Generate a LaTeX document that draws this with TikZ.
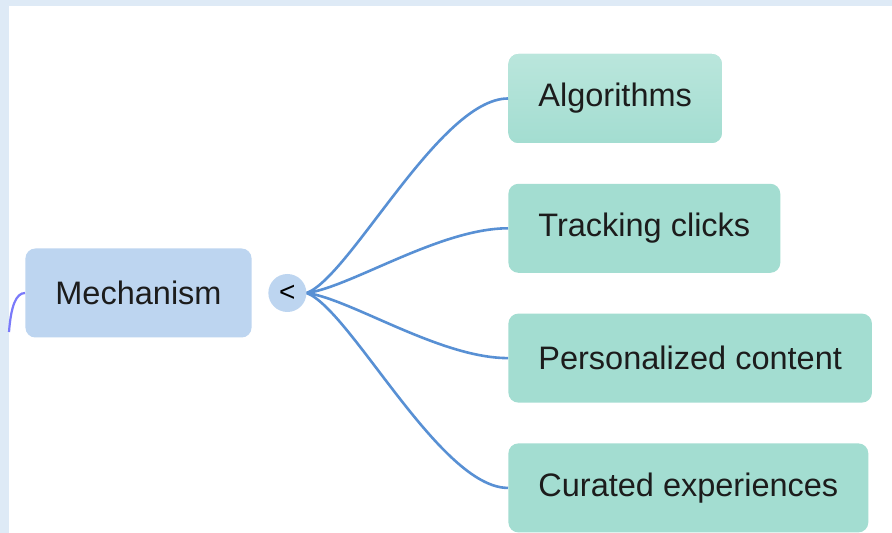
\documentclass[tikz,border=0pt]{standalone}
\usepackage{fontspec}
\setmainfont{Liberation Sans}
\usepackage{tikz}
\usetikzlibrary{positioning,calc}
\definecolor{mmframe}{RGB}{222,234,246}
\definecolor{mmblue}{RGB}{189,213,240}
\definecolor{mmgreen}{RGB}{163,221,209}
\definecolor{mmgreentop}{RGB}{186,230,220}
\definecolor{mmline}{RGB}{88,144,212}
\definecolor{mmin}{RGB}{122,122,250}
\definecolor{mmtext}{RGB}{28,28,28}
\tikzset{
  mmnode/.style = {align=left, inner xsep=15pt, inner ysep=0pt,
    minimum height=44.5pt, rounded corners=5pt, text=mmtext,
    font=\fontsize{16.25}{19}\selectfont},
  mm_root/.style = {mmnode, fill=mmblue},% noeud central
  mm_leaf/.style = {mmnode, fill=mmgreen},% feuille
  mm_tog/.style = {circle, fill=mmblue, minimum size=19pt, inner sep=0pt,
    text=black, font=\fontsize{14}{16}\selectfont},% bouton replier
  mm_link/.style = {draw=mmline, line width=1.3pt},% lien vers feuille
  mm_in/.style = {draw=mmin, line width=1.1pt}% lien entrant
}
\begin{document}
\begin{tikzpicture}[x=0.5pt,y=-0.5pt]
        \fill[mmframe] (0,0) rectangle (892,533);
        \fill[white] (9,6) rectangle (892,533);
        \node [mm_root, anchor=west](mech) at (25,293) {Mechanism};
        \node [mm_tog, right=8pt of mech](tog) {<};
        \node [mm_leaf, anchor=west, top color=mmgreentop, bottom color=mmgreen](alg) at (508,98.5) {Algorithms};
        \node [mm_leaf, below=20pt of alg.south west, anchor=north west](trk) {Tracking clicks};
        \node [mm_leaf, below=20pt of trk.south west, anchor=north west](per) {Personalized content};
        \node [mm_leaf, below=20pt of per.south west, anchor=north west](cur) {Curated experiences};
        \coordinate (in) at (9,332);
        \draw [mm_in] (in) .. controls (11,306) and (16,293) .. (mech.west);
        \foreach \n/\d in {alg/-17,trk/-6,per/6,cur/17}
            \draw [mm_link] (tog.east) .. controls ($(tog.east)+(44,\d)$) and ($(\n.west)+(-68,0)$) .. (\n.west);
\end{tikzpicture}
\end{document}
